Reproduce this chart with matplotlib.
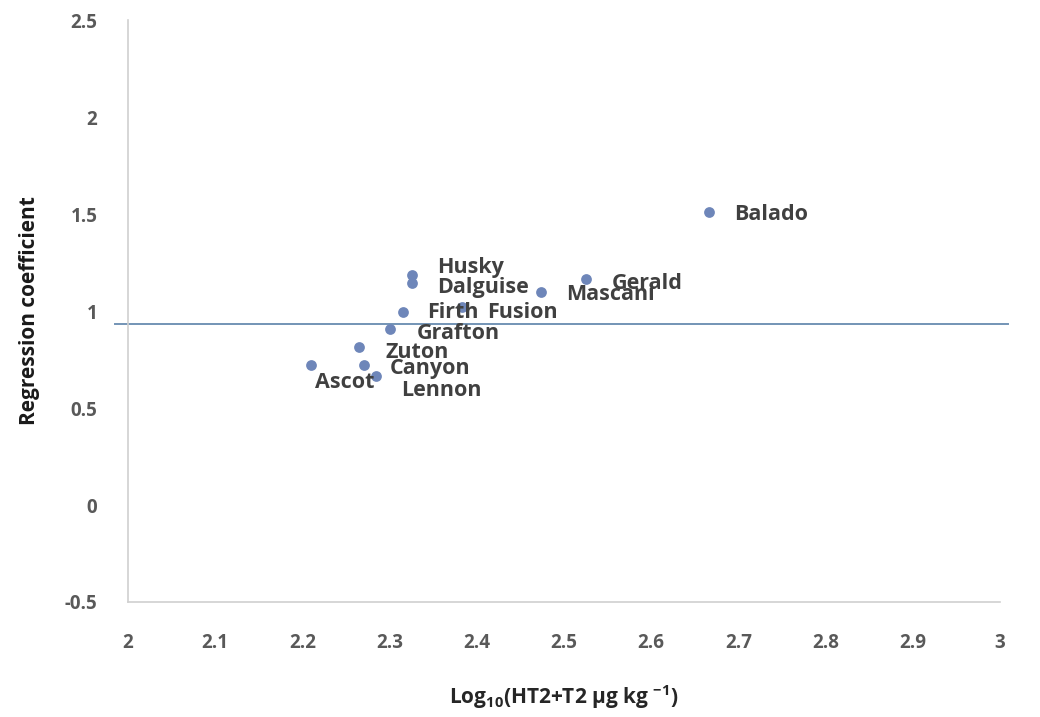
import matplotlib.pyplot as plt

# Données
varieties = ['Balado', 'Husky', 'Dalguise', 'Mascani', 'Gerald', 'Firth', 'Fusion',
             'Grafton', 'Zuton', 'Canyon', 'Lennon', 'Ascot']
log_ht2_t2 = [2.666, 2.326, 2.326, 2.474, 2.525, 2.315, 2.383,
              2.301, 2.265, 2.271, 2.284, 2.210]
regression_coef = [1.51, 1.186, 1.143, 1.10, 1.163, 0.996, 1.019,
                   0.906, 0.813, 0.722, 0.665, 0.722]
# décalage des étiquettes (pixels)
label_offsets = [(25, -2), (25, 7), (25, -4), (25, -3), (26, -4), (25, -1), (25, -5),
                 (26, -4), (26, -5), (26, -4), (26, -14), (4, -18)]
ref_line = 0.933

plt.rcParams['font.family'] = ['Open Sans', 'DejaVu Sans']
plt.rcParams['mathtext.fontset'] = 'custom'
plt.rcParams['mathtext.rm'] = 'Open Sans:bold'
plt.rcParams['mathtext.it'] = 'Open Sans:bold'

fig = plt.figure(figsize=(10.4, 7.17), dpi=100)
ax = fig.add_axes([0.123, 0.1604, 0.8385, 0.8116])

ax.scatter(log_ht2_t2, regression_coef, s=60, color='#6e86b9', zorder=3, linewidths=0)
ax.plot([1.985, 3.009], [ref_line, ref_line], color='#7394b5', lw=1.4, clip_on=False, zorder=2)

for name, x, y, (dx, dy) in zip(varieties, log_ht2_t2, regression_coef, label_offsets):
    ax.annotate(name, (x, y), xytext=(dx * 0.72, dy * 0.72), textcoords='offset points',
                ha='left', va='center', fontsize=15.5, fontweight='bold', color='#404040',
                zorder=4)

ax.set_xlim(2, 3)
ax.set_ylim(-0.5, 2.5)
ax.set_xticks([2, 2.1, 2.2, 2.3, 2.4, 2.5, 2.6, 2.7, 2.8, 2.9, 3])
ax.set_xticklabels(['2', '2.1', '2.2', '2.3', '2.4', '2.5', '2.6', '2.7', '2.8', '2.9', '3'])
ax.set_yticks([-0.5, 0, 0.5, 1, 1.5, 2, 2.5])
ax.set_yticklabels(['-0.5', '0', '0.5', '1', '1.5', '2', '2.5'])
ax.tick_params(length=0, labelsize=13.5, labelcolor='#595959')
ax.tick_params(axis='x', pad=22)
ax.tick_params(axis='y', pad=22)
for lab in ax.get_xticklabels() + ax.get_yticklabels():
    lab.set_fontweight('bold')

for side in ['top', 'right']:
    ax.spines[side].set_visible(False)
for side in ['left', 'bottom']:
    ax.spines[side].set_color('#d0d0d0')
    ax.spines[side].set_linewidth(1.2)

ax.set_xlabel(r'Log$_{10}$(HT2+T2 µg kg $^{-1}$)', fontsize=15, fontweight='bold',
              color='#262626', labelpad=22)
ax.set_ylabel('Regression coefficient', fontsize=15, fontweight='bold', color='#1a1a1a',
              labelpad=18)

fig.savefig('out.png', dpi=100)
